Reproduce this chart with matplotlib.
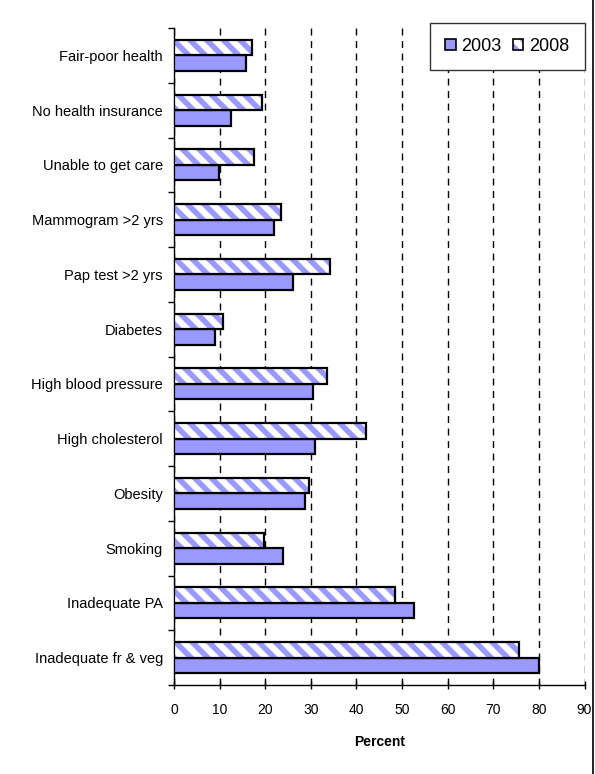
import numpy as np
import matplotlib
matplotlib.use('Agg')
import matplotlib.pyplot as plt
from matplotlib.patches import Patch
from matplotlib.lines import Line2D
from matplotlib.legend_handler import HandlerTuple

# Data (top to bottom)
categories = ['Fair-poor health', 'No health insurance', 'Unable to get care',
              'Mammogram >2 yrs', 'Pap test >2 yrs', 'Diabetes',
              'High blood pressure', 'High cholesterol', 'Obesity', 'Smoking',
              'Inadequate PA', 'Inadequate fr & veg']
values_2003 = [15.7, 12.5, 9.8, 22.0, 26.1, 9.0, 30.5, 31.0, 28.8, 23.8, 52.7, 80.0]
values_2008 = [17.1, 19.3, 17.5, 23.4, 34.2, 10.7, 33.6, 42.2, 29.6, 19.7, 48.5, 75.6]
x_ticks = [0, 10, 20, 30, 40, 50, 60, 70, 80, 90]

plt.rcParams['font.family'] = ['Liberation Sans', 'DejaVu Sans']
plt.rcParams['hatch.linewidth'] = 4.0

bar_color = '#9999ff'
bar_h = 0.283

fig = plt.figure(figsize=(5.95, 7.74), dpi=100)
ax = fig.add_axes([174 / 595, 1 - 685 / 774, (584.5 - 174) / 595, (685 - 28) / 774])

y = np.arange(len(categories))

# 2003: solid fill
ax.barh(y + bar_h / 2, values_2003, height=bar_h, color=bar_color,
        edgecolor='black', linewidth=1.6, zorder=3)
# 2008: white with diagonal stripes, then black outline on top
ax.barh(y - bar_h / 2, values_2008, height=bar_h, color='white',
        edgecolor=bar_color, hatch='\\\\', linewidth=0, zorder=3)
ax.barh(y - bar_h / 2, values_2008, height=bar_h, fill=False,
        edgecolor='black', linewidth=1.6, zorder=4)

ax.set_xlim(0, 90)
ax.set_ylim(len(categories) - 0.5, -0.5)
ax.set_xticks(x_ticks)
ax.set_xticklabels([str(t) for t in x_ticks], fontsize=10)
ax.set_yticks(y)
ax.set_yticklabels(categories, fontsize=10.5)
ax.set_yticks(np.arange(len(categories) + 1) - 0.5, minor=True)

ax.tick_params(axis='y', which='major', length=0, pad=8)
ax.tick_params(axis='y', which='minor', length=4, width=1, direction='out')
ax.tick_params(axis='x', which='major', length=6, width=1, direction='inout', pad=10)

for s in ['top', 'right']:
    ax.spines[s].set_visible(False)
ax.spines['left'].set_linewidth(1)
ax.spines['bottom'].set_linewidth(1)

ax.grid(axis='x', color='black', linestyle=(0, (5, 4)), linewidth=1, zorder=0)
ax.set_axisbelow(True)

ax.set_xlabel('Percent', fontsize=10, fontweight='bold', labelpad=13)

h2003 = Patch(facecolor=bar_color, edgecolor='black', linewidth=1.2)
h2008 = (Patch(facecolor='white', edgecolor=bar_color, hatch='\\\\', linewidth=0),
         Patch(fill=False, edgecolor='black', linewidth=1.2))
leg = ax.legend([h2003, h2008], ['2003', '2008'], loc='upper right', ncol=2, fontsize=13,
                handler_map={tuple: HandlerTuple(ndivide=1, pad=0)},
                bbox_to_anchor=(584.5 / 595, 1 - 22.7 / 774), bbox_transform=fig.transFigure,
                borderaxespad=0, handlelength=0.6, handleheight=0.6, handletextpad=0.3,
                columnspacing=0.6, borderpad=0.85, fancybox=False, framealpha=1,
                edgecolor='#333333')
leg.get_frame().set_linewidth(1)

# chart border line on the right edge
fig.add_artist(Line2D([593 / 595, 593 / 595], [0, 1], color='black', linewidth=1.2,
                      transform=fig.transFigure))

fig.savefig('out.png', dpi=100)
